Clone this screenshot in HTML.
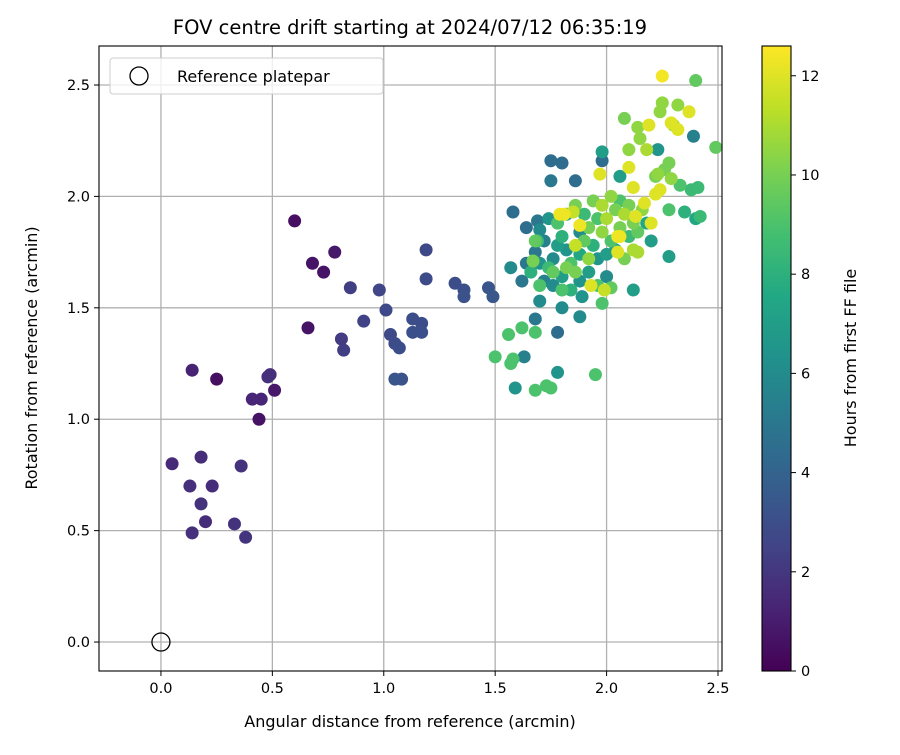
<!DOCTYPE html>
<html><head><meta charset="utf-8"><style>
body{margin:0;background:#fff}
svg{font-family:"DejaVu Sans","Liberation Sans",sans-serif}
</style></head><body>
<svg id="c" width="900" height="750" viewBox="0 0 900 750"></svg>
<script>
const xTicks=[0.0,0.5,1.0,1.5,2.0,2.5];
const yTicks=[0.0,0.5,1.0,1.5,2.0,2.5];
const cTicks=[0,2,4,6,8,10,12];
const xs=[0.60,0.68,0.73,0.78,0.66,0.25,0.14,0.51,0.44,0.41,0.45,0.48,0.49,0.05,0.18,0.13,0.23,0.18,0.20,0.36,0.14,0.33,0.38,
0.85,0.81,0.82,0.91,0.98,1.01,1.03,1.05,1.07,1.05,1.08,1.13,1.13,1.17,1.17,1.19,1.19,1.32,1.36,1.36,1.47,1.49,
2.25,2.40,2.25,2.32,2.24,2.37,2.08,2.30,2.32,2.29,2.39,2.14,2.19,2.15,2.23,2.49,2.10,2.18,1.98,1.75,1.80,1.98,1.75,1.86,2.28,2.26,1.97,2.10,2.23,2.29,2.06,2.22,2.33,2.38,2.41,2.42,2.40,2.12,2.24,2.17,2.22,
1.50,1.56,1.62,1.68,1.68,1.78,1.57,1.58,1.63,1.78,1.95,1.59,1.68,1.73,1.75,
1.57,1.62,1.70,1.80,1.88,1.89,2.02,1.98,2.12,2.28,2.28,2.35,1.58,1.64,1.69,1.81,1.69,2.06,2.05,2.14,1.67,
1.70,1.72,1.68,1.70,1.74,1.76,1.78,1.80,1.82,1.84,1.86,1.88,1.90,1.92,1.94,1.96,1.98,2.00,2.02,2.04,2.06,2.08,2.10,2.12,2.14,2.16,2.18,2.20,1.72,1.76,1.80,1.84,1.88,1.92,1.96,2.00,1.74,1.78,1.82,1.86,1.90,1.94,1.98,2.02,2.06,2.10,1.88,1.96,2.04,1.82,1.76,1.80,1.86,1.92,2.00,2.08,2.12,1.70,1.66,1.68,1.64,
1.79,1.88,1.93,2.05,1.85,1.99,2.13,2.20];
const ys=[1.89,1.70,1.66,1.75,1.41,1.18,1.22,1.13,1.00,1.09,1.09,1.19,1.20,0.80,0.83,0.70,0.70,0.62,0.54,0.79,0.49,0.53,0.47,
1.59,1.36,1.31,1.44,1.58,1.49,1.38,1.34,1.32,1.18,1.18,1.45,1.39,1.43,1.39,1.76,1.63,1.61,1.58,1.55,1.59,1.55,
2.54,2.52,2.42,2.41,2.38,2.38,2.35,2.32,2.30,2.33,2.27,2.31,2.32,2.26,2.21,2.22,2.21,2.21,2.16,2.16,2.15,2.20,2.07,2.07,2.15,2.12,2.10,2.13,2.10,2.08,2.09,2.09,2.05,2.03,2.04,1.91,1.90,2.04,2.03,1.97,2.01,
1.28,1.38,1.41,1.39,1.45,1.39,1.25,1.27,1.28,1.21,1.20,1.14,1.13,1.15,1.14,
1.68,1.62,1.53,1.50,1.46,1.55,1.59,1.52,1.58,1.73,1.94,1.93,1.93,1.86,1.89,1.92,1.80,1.82,1.75,1.75,1.71,
1.85,1.80,1.75,1.70,1.68,1.72,1.78,1.82,1.76,1.70,1.66,1.74,1.80,1.86,1.78,1.72,1.84,1.90,1.80,1.76,1.86,1.92,1.82,1.88,1.84,1.94,1.88,1.80,1.62,1.60,1.64,1.58,1.62,1.66,1.60,1.64,1.90,1.88,1.92,1.96,1.92,1.98,1.96,2.00,1.98,1.96,1.84,1.90,1.94,1.68,1.66,1.58,1.78,1.72,1.74,1.72,1.76,1.60,1.66,1.80,1.70,
1.92,1.87,1.60,1.82,1.93,1.58,1.91,1.88];
const hours=[0.5,0.7,0.7,0.8,0.7,0.5,1.2,0.8,0.6,1.3,1.3,1.7,1.7,1.5,1.6,1.7,1.6,1.8,1.6,1.8,1.7,1.8,1.9,
2.3,2.2,2.3,2.5,2.6,2.7,2.8,2.9,3.0,3.3,3.2,3.0,3.1,3.0,3.1,2.8,2.9,3.0,3.1,3.2,3.3,3.4,
12.4,9.5,10.5,10.5,10.5,12,10,11,12,12,5.5,10.5,12,10.5,6.5,9.5,10.5,11,4.5,4.5,4.5,7,5,4.5,10,10,12,12,10.5,10.5,7,10,9,8.5,8.5,8.5,7.5,12,12,12,12,
9,9,9,9,5,4.5,9,9,5.5,6.5,9,6.5,9,9,9,
6,5,6,6,6,6.5,9.5,9,7,7,9,8,4.5,4.5,5,12.3,8.5,12.3,12,11,10,
6,5.5,5,6.5,8.5,6,7,8,6.5,9,10,7.5,9.5,10,8,6.5,10.5,11,9,7,10,11,8.5,10,9.5,10.5,7.5,7,5.5,6,7,8,6.5,7,9,6,6.5,9,7,10,8.5,10,11,10.5,9,10,6,9,10,10,9.5,9,11.5,10.5,7,10,11,9,8,9.5,5,
12.3,12.3,12,12.3,11.5,11.5,12,12];
const L=99,R=722,T=46,B=671,X0=-0.278,X1=2.518,Y0=-0.13,Y1=2.675,CMAX=12.6;
const sx=v=>L+(v-X0)/(X1-X0)*(R-L), sy=v=>B-(v-Y0)/(Y1-Y0)*(B-T);
const stops=["#440154","#482475","#414487","#355f8d","#2a788e","#21918c","#22a884","#44bf70","#7ad151","#bddf26","#fde725"];
function hex(h){return [1,3,5].map(i=>parseInt(h.substr(i,2),16));}
function vir(t){t=Math.max(0,Math.min(1,t));const f=t*10,i=Math.min(9,Math.floor(f)),u=f-i;const a=hex(stops[i]),b=hex(stops[i+1]);return `rgb(${a.map((v,k)=>Math.round(v+(b[k]-v)*u)).join(',')})`;}
const svg=document.getElementById('c'),NS="http://www.w3.org/2000/svg";
function el(t,a,p){const e=document.createElementNS(NS,t);for(const k in a)e.setAttribute(k,a[k]);(p||svg).appendChild(e);return e;}
const grid=el('g',{});


xTicks.forEach(v=>{el('line',{x1:sx(v),x2:sx(v),y1:T,y2:B,stroke:'#b0b0b0','stroke-width':1.3},grid);});
yTicks.forEach(v=>{el('line',{x1:L,x2:R,y1:sy(v),y2:sy(v),stroke:'#b0b0b0','stroke-width':1.3},grid);});
const pts=el('g',{});


const idx=hours.map((h,i)=>i).sort((a,b)=>hours[a]-hours[b]);
idx.forEach(i=>{const c=el('circle',{cx:sx(xs[i]),cy:sy(ys[i]),r:6.5,fill:vir(hours[i]/CMAX)},pts);

});
const ref=el('circle',{cx:sx(0),cy:sy(0),r:9,fill:'none',stroke:'#000','stroke-width':1.3});


el('rect',{x:L,y:T,width:R-L,height:B-T,fill:'none',stroke:'#000','stroke-width':1.1});
const xa=el('g',{});


xTicks.forEach(v=>{el('line',{x1:sx(v),x2:sx(v),y1:B,y2:B+5,stroke:'#000'},xa);const t=el('text',{x:sx(v),y:B+22,'text-anchor':'middle','font-size':14.5},xa);t.textContent=v.toFixed(1);});
const ya=el('g',{});


yTicks.forEach(v=>{el('line',{x1:L-5,x2:L,y1:sy(v),y2:sy(v),stroke:'#000'},ya);const t=el('text',{x:L-9,y:sy(v)+5,'text-anchor':'end','font-size':14.5},ya);t.textContent=v.toFixed(1);});
let t=el('text',{x:410,y:727,'text-anchor':'middle','font-size':16});t.textContent='Angular distance from reference (arcmin)';

t=el('text',{x:0,y:0,'text-anchor':'middle','font-size':16,transform:'translate(37,358) rotate(-90)'});t.textContent='Rotation from reference (arcmin)';

t=el('text',{x:410,y:34,'text-anchor':'middle','font-size':19.5});t.textContent='FOV centre drift starting at 2024/07/12 06:35:19';

const lg=el('g',{});


el('rect',{x:110,y:58,width:273,height:36,rx:3,fill:'#fff','fill-opacity':0.8,stroke:'#ccc'},lg);
el('circle',{cx:139,cy:76,r:9,fill:'none',stroke:'#000','stroke-width':1.3},lg);
t=el('text',{x:177,y:82,'font-size':16},lg);t.textContent='Reference platepar';
const CL=762,CR=791,CT=46,CB=671;
const defs=el('defs',{});const gr=el('linearGradient',{id:'vg',x1:0,y1:1,x2:0,y2:0},defs);
stops.forEach((s,i)=>el('stop',{offset:i/10,'stop-color':s},gr));
const cb=el('g',{});


el('rect',{x:CL,y:CT,width:CR-CL,height:CB-CT,fill:'url(#vg)',stroke:'#000','stroke-width':1.1},cb);
cTicks.forEach(v=>{const y=CB-v/CMAX*(CB-CT);el('line',{x1:CR,x2:CR+5,y1:y,y2:y,stroke:'#000'},cb);const tt=el('text',{x:CR+10,y:y+5,'font-size':14.5},cb);tt.textContent=v;});
t=el('text',{x:0,y:0,'text-anchor':'middle','font-size':16,transform:'translate(856,358) rotate(-90)'});t.textContent='Hours from first FF file';

</script>
</body></html>
